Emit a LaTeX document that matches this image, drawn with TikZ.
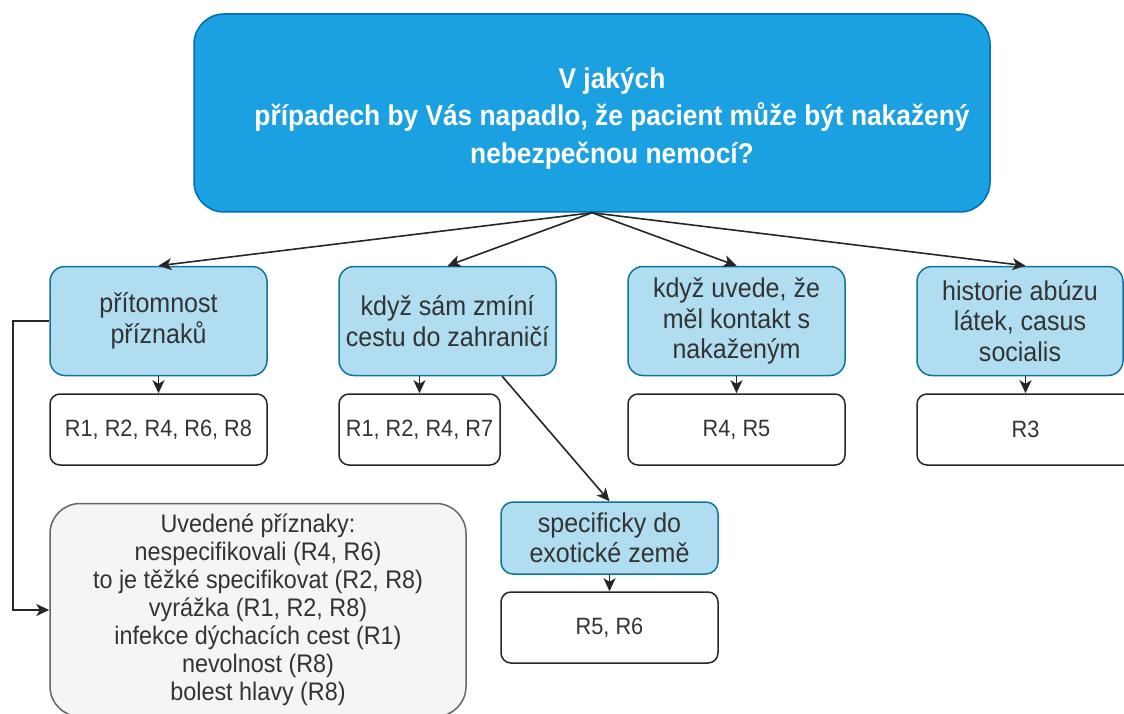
\documentclass[tikz,border=0pt]{standalone}
\usepackage{fontspec}
\setmainfont{Liberation Sans}
\newfontfamily\cf[FakeStretch=0.92]{Liberation Sans}
\usetikzlibrary{arrows.meta,calc}
\definecolor{topfill}{HTML}{1BA1E2}
\definecolor{topdraw}{HTML}{006EAF}
\definecolor{lbfill}{HTML}{B1DDF0}
\definecolor{lbdraw}{HTML}{10739E}
\definecolor{gfill}{HTML}{F5F5F5}
\definecolor{gdraw}{HTML}{666666}
\definecolor{txt}{HTML}{333333}
\begin{document}
\begin{tikzpicture}[x=1pt,y=-1pt,
  base/.style={line width=1.5pt, inner sep=0pt, align=center},
  topbox/.style={base, fill=topfill, draw=topdraw, rounded corners=30pt, minimum width=796pt, minimum height=198pt},
  toptext/.style={inner sep=0pt, align=center, text=white, font=\cf\bfseries\fontsize{28.6}{37.5}\selectfont},
  lbox/.style={base, fill=lbfill, draw=lbdraw, rounded corners=15pt, minimum width=217pt, minimum height=109pt, text=txt, font=\cf\fontsize{27.2}{30.5}\selectfont},
  sbox/.style={base, fill=lbfill, draw=lbdraw, rounded corners=12pt, minimum width=217pt, minimum height=72pt, text=txt, font=\cf\fontsize{27.2}{30}\selectfont},
  rbox/.style={base, fill=white, draw=black!85, rounded corners=10pt, minimum height=71pt, text=txt, font=\cf\fontsize{23.6}{26}\selectfont},
  gbox/.style={base, fill=gfill, draw=gdraw, rounded corners=30pt, minimum width=416pt, minimum height=213pt, text=txt, font=\cf\fontsize{25.4}{28}\selectfont},
  arr/.style={line width=1.6pt, draw=black!85, -{Stealth[length=13pt,width=12pt,inset=3.5pt]}}
]
\useasboundingbox (0,0) rectangle (1124,714);
\node[topbox] (top) at (592,113) {};
\node[toptext] (toplabel) at (612,118) {V jakých\\ případech by Vás napadlo, že pacient může být nakažený\\nebezpečnou nemocí?};
\node[lbox] (b1) at (158.5,321) {přítomnost\\příznaků};
\node[lbox] (b2) at (447.5,321) {když sám zmíní\\cestu do zahraničí};
\node[lbox] (b3) at (736.5,321) {když uvede, že\\měl kontakt s\\nakaženým};
\node[lbox, minimum width=206pt] (b4) at (1020,321) {historie abúzu\\látek, casus\\socialis};
\node[rbox, minimum width=217pt] (r1) at (158.5,429.5) {R1, R2, R4, R6, R8};
\node[rbox, minimum width=161pt] (r2) at (419.5,429.5) {R1, R2, R4, R7};
\node[rbox, minimum width=217pt] (r3) at (736.5,429.5) {R4, R5};
\node[rbox, minimum width=217pt] (r4) at (1025.5,429.5) {R3};
\node[sbox] (sp) at (609.5,538) {specificky do\\exotické země};
\node[rbox, minimum width=217pt] (r5) at (609.5,627.5) {R5, R6};
\node[gbox] (g) at (258,610) {Uvedené příznaky:\\nespecifikovali (R4, R6)\\to je těžké specifikovat (R2, R8)\\vyrážka (R1, R2, R8)\\infekce dýchacích cest (R1)\\nevolnost (R8)\\bolest hlavy (R8)};
\draw[arr] (top.south) -- (b1.north);
\draw[arr] (top.south) -- (b2.north);
\draw[arr] (top.south) -- (b3.north);
\draw[arr] (top.south) -- (b4.north -| r4.north);
\draw[arr] (b1.south) -- (r1.north);
\draw[arr] (b2.south -| r2.north) -- (r2.north);
\draw[arr] (b3.south) -- (r3.north);
\draw[arr] (b4.south -| r4.north) -- (r4.north);
\coordinate (b2out) at ($(b2.south west)!0.75!(b2.south east)$);
\draw[arr] (b2out) -- (sp.north);
\draw[arr] (sp.south) -- (r5.north);
\draw[arr] (b1.west) -- ++(-36,0) |- (g.west);
\end{tikzpicture}
\end{document}
